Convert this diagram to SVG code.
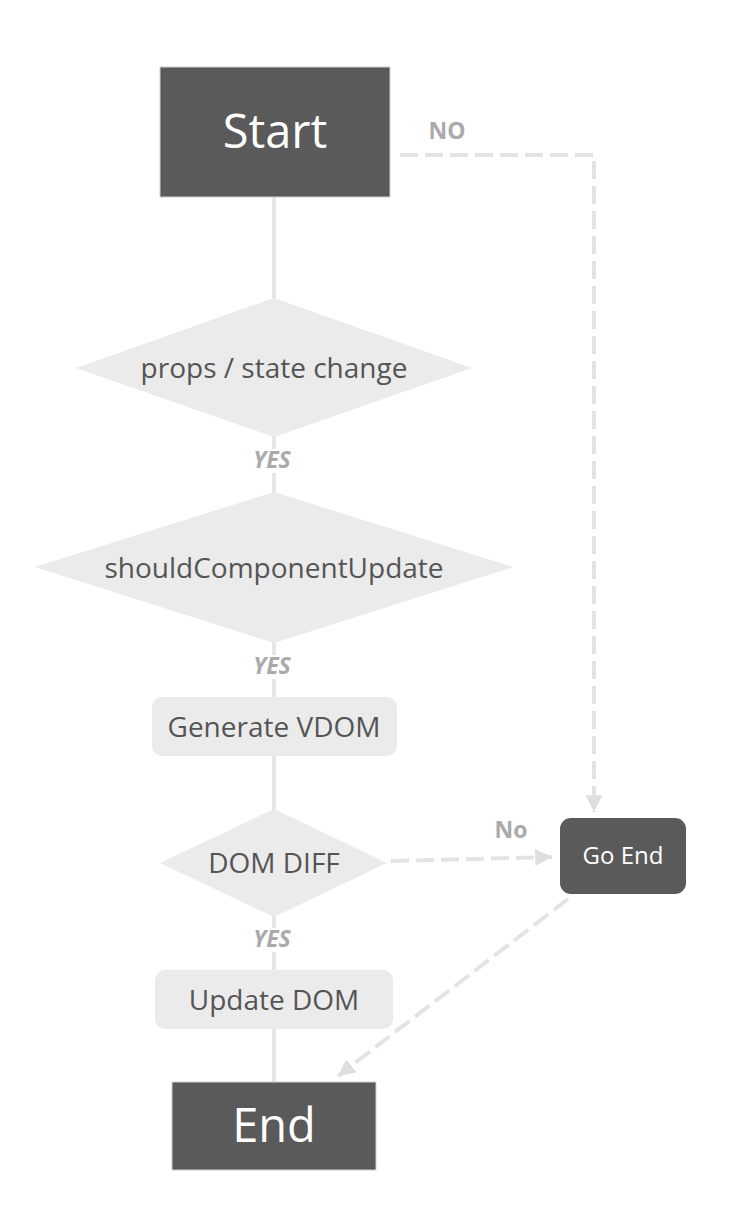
<svg xmlns="http://www.w3.org/2000/svg" width="742" height="1224" viewBox="0 0 742 1224">
<style>
text{font-family:"Open Sans","Liberation Sans",sans-serif;text-anchor:middle}
.term{fill:#5a5a5a;stroke:#cfcfcf;stroke-width:1}
.termt{fill:#ffffff;font-size:47px}
.light{fill:#ebebeb}
.lt{fill:#555555;font-size:28px}
.dark{fill:#5a5a5a}
.solid{stroke:#e6e6e6;stroke-width:4;fill:none}
.dash{stroke:#e3e3e3;stroke-width:4;fill:none;stroke-dasharray:18 7}
.yes{fill:#aaaaaa;font-size:23px;font-weight:bold;font-style:italic}
.lbl{fill:#aaaaaa;font-size:23px;font-weight:bold}
</style>
<defs>
<marker id="arr" viewBox="0 0 10 10" refX="10" refY="5" markerWidth="4.2" markerHeight="4.2" orient="auto" markerUnits="strokeWidth">
<path d="M0,0 L10,5 L0,10 z" fill="#dedede"/>
</marker>
</defs>
<rect width="742" height="1224" fill="#ffffff"/>
<g id="connectors">
<line class="solid" x1="274" y1="197" x2="274" y2="1082"/>
<polyline class="dash" points="400,155 594,155 594,812" marker-end="url(#arr)"/>
<line class="dash" x1="391" y1="861" x2="552" y2="857" marker-end="url(#arr)"/>
<line class="dash" x1="568" y1="899" x2="338" y2="1076" marker-end="url(#arr)"/>
<rect x="250" y="449" width="46" height="24" fill="#ffffff"/>
<text class="yes" x="272" y="468">YES</text>
<rect x="250" y="655" width="46" height="24" fill="#ffffff"/>
<text class="yes" x="272" y="674">YES</text>
<rect x="250" y="928" width="46" height="24" fill="#ffffff"/>
<text class="yes" x="272" y="947">YES</text>
<text class="lbl" x="447" y="139">NO</text>
<text class="lbl" x="511" y="838">No</text>
</g>
<g id="start">
<rect class="term" x="160" y="67" width="230" height="130"/>
<text class="termt" x="275" y="148">Start</text>
</g>
<g id="props">
<polygon class="light" points="274,298 472,368 274,437 76,368"/>
<text class="lt" x="274" y="378">props / state change</text>
</g>
<g id="should">
<polygon class="light" points="274,492 513,567 274,643 35,567"/>
<text class="lt" x="274" y="578">shouldComponentUpdate</text>
</g>
<g id="generate">
<rect class="light" x="152" y="697" width="245" height="59" rx="10"/>
<text class="lt" x="274" y="737">Generate VDOM</text>
</g>
<g id="diff">
<polygon class="light" points="274,809 387,863 274,917 160,863"/>
<text class="lt" x="274" y="873">DOM DIFF</text>
</g>
<g id="goend">
<rect class="dark" x="560" y="818" width="126" height="76" rx="11"/>
<text x="623" y="864" fill="#ffffff" font-size="24px">Go End</text>
</g>
<g id="update">
<rect class="light" x="155" y="970" width="238" height="59" rx="10"/>
<text class="lt" x="274" y="1010">Update DOM</text>
</g>
<g id="end">
<rect class="term" x="172" y="1082" width="204" height="88"/>
<text class="termt" x="274" y="1142">End</text>
</g>
</svg>
